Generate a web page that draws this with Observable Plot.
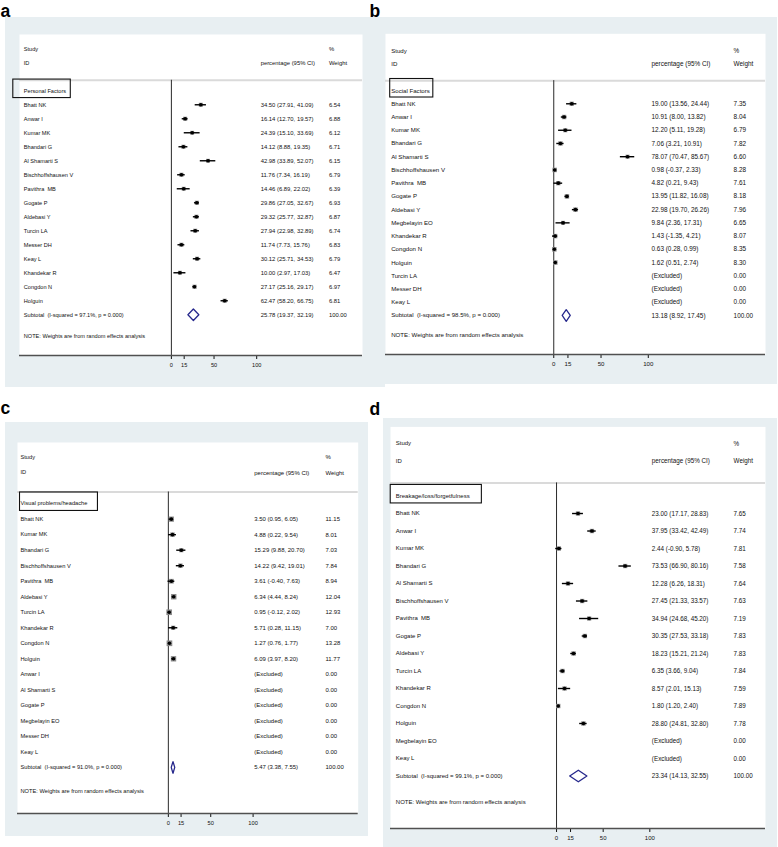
<!DOCTYPE html>
<html><head><meta charset="utf-8">
<script src="https://cdn.jsdelivr.net/npm/d3@7"></script>
<script src="https://cdn.jsdelivr.net/npm/@observablehq/plot@0.6"></script>
<style>
body{margin:0;background:#fff;}
#page{position:relative;width:778px;height:847px;overflow:hidden;font-family:"Liberation Sans",Arial,Helvetica,sans-serif;}
.panel{position:absolute;background:#e8eff2;}
.panel svg{display:block;overflow:visible;}
.panel svg text{white-space:pre;}
#letters{position:absolute;left:0;top:0;pointer-events:none;}
</style></head><body><div id="page"></div>
<script>
// ---------- data ----------
const xTicks = [0, 15, 50, 100];
const headerLeft = ["Study", "ID"];
const headerEst = ["", "percentage (95% CI)"];
const headerWeight = ["%", "Weight"];
const noteText = "NOTE: Weights are from random effects analysis";
const excludedText = "(Excluded)";
const panelLetters = ["a", "b", "c", "d"];
const groupLabels = ["Personal Factors", "Social Factors", "Visual problems/headache", "Breakage/loss/forgetfulness"];

// a: Personal Factors
const aStudies = ["Bhatt NK","Anwar I","Kumar MK","Bhandari G","Al Shamarti S","Bischhoffshausen V","Pavithra  MB","Gogate P","Aldebasi Y","Turcin LA","Messer DH","Keay L","Khandekar R","Congdon N","Holguin"];
const aEst = [34.50,16.14,24.39,14.12,42.98,11.76,14.46,29.86,29.32,27.94,11.74,30.12,10.00,27.17,62.47];
const aLo = [27.91,12.70,15.10,8.88,33.89,7.34,6.89,27.05,25.77,22.98,7.73,25.71,2.97,25.16,58.20];
const aHi = [41.09,19.57,33.69,19.35,52.07,16.19,22.02,32.67,32.87,32.89,15.76,34.53,17.03,29.17,66.75];
const aWeight = [6.54,6.88,6.12,6.71,6.15,6.79,6.39,6.93,6.87,6.74,6.83,6.79,6.47,6.97,6.81];
const aExcluded = [];
const aSubtotal = [25.78, 19.37, 32.19];
const aISquared = "97.1%";

// b: Social Factors
const bStudies = ["Bhatt NK","Anwar I","Kumar MK","Bhandari G","Al Shamarti S","Bischhoffshausen V","Pavithra  MB","Gogate P","Aldebasi Y","Megbelayin EO","Khandekar R","Congdon N","Holguin"];
const bEst = [19.00,10.91,12.20,7.06,78.07,0.98,4.82,13.95,22.98,9.84,1.43,0.63,1.62];
const bLo = [13.56,8.00,5.11,3.21,70.47,-0.37,0.21,11.82,19.70,2.36,-1.35,0.28,0.51];
const bHi = [24.44,13.82,19.28,10.91,85.67,2.33,9.43,16.08,26.26,17.31,4.21,0.99,2.74];
const bWeight = [7.35,8.04,6.79,7.82,6.60,8.28,7.61,8.18,7.96,6.65,8.07,8.35,8.30];
const bExcluded = ["Turcin LA","Messer DH","Keay L"];
const bSubtotal = [13.18, 8.92, 17.45];
const bISquared = "98.5%";

// c: Visual problems/headache
const cStudies = ["Bhatt NK","Kumar MK","Bhandari G","Bischhoffshausen V","Pavithra  MB","Aldebasi Y","Turcin LA","Khandekar R","Congdon N","Holguin"];
const cEst = [3.50,4.88,15.29,14.22,3.61,6.34,0.95,5.71,1.27,6.09];
const cLo = [0.95,0.22,9.88,9.42,-0.40,4.44,-0.12,0.28,0.76,3.97];
const cHi = [6.05,9.54,20.70,19.01,7.63,8.24,2.02,11.15,1.77,8.20];
const cWeight = [11.15,8.01,7.03,7.84,8.94,12.04,12.93,7.00,13.28,11.77];
const cExcluded = ["Anwar I","Al Shamarti S","Gogate P","Megbelayin EO","Messer DH","Keay L"];
const cSubtotal = [5.47, 3.38, 7.55];
const cISquared = "91.0%";

// d: Breakage/loss/forgetfulness
const dStudies = ["Bhatt NK","Anwar I","Kumar MK","Bhandari G","Al Shamarti S","Bischhoffshausen V","Pavithra  MB","Gogate P","Aldebasi Y","Turcin LA","Khandekar R","Congdon N","Holguin"];
const dEst = [23.00,37.95,2.44,73.53,12.28,27.45,34.94,30.35,18.23,6.35,8.57,1.80,28.80];
const dLo = [17.17,33.42,-0.90,66.90,6.26,21.33,24.68,27.53,15.21,3.66,2.01,1.20,24.81];
const dHi = [28.83,42.49,5.78,80.16,18.31,33.57,45.20,33.18,21.24,9.04,15.13,2.40,32.80];
const dWeight = [7.65,7.74,7.81,7.58,7.64,7.63,7.19,7.83,7.83,7.84,7.59,7.89,7.78];
const dExcluded = ["Megbelayin EO","Keay L"];
const dSubtotal = [23.34, 14.13, 32.55];
const dISquared = "99.1%";

// ---------- layout (style only) ----------
const layouts = [
  {left:5, top:17, width:380, height:370, ml:14, mr:23, mt:17, mb:32, yTop:-4.02, axisPad:2.91, fs:5.6, labelDx:4.3, estFrac:0.703, wtFrac:0.902, boxPad:[11,4], letter:[0,16.5]},
  {left:385, top:17, width:392, height:367, ml:0, mr:12, mt:16.3, mb:30, yTop:-4.29, axisPad:2.95, fs:6.1, labelDx:5.7, estFrac:0.700, wtFrac:0.916, boxPad:[1.5,3], letter:[369,16.5]},
  {left:5, top:421.7, width:363, height:414.3, ml:12, mr:10.3, mt:20, mb:23.3, yTop:-3.94, axisPad:2.97, fs:5.7, labelDx:3, estFrac:0.695, wtFrac:0.904, boxPad:[1,10], letter:[0,413.5]},
  {left:383, top:418.3, width:394, height:428.7, ml:7, mr:12, mt:8.4, mb:18.7, yTop:-3.95, axisPad:3.0, fs:6.0, labelDx:5.3, estFrac:0.697, wtFrac:0.915, boxPad:[5.6,11.7], letter:[369,415]}
];

const panelsData = [
  [aStudies, aEst, aLo, aHi, aWeight, aExcluded, aSubtotal, aISquared],
  [bStudies, bEst, bLo, bHi, bWeight, bExcluded, bSubtotal, bISquared],
  [cStudies, cEst, cLo, cHi, cWeight, cExcluded, cSubtotal, cISquared],
  [dStudies, dEst, dLo, dHi, dWeight, dExcluded, dSubtotal, dISquared]
];

const page = document.getElementById("page");
const fmt = v => v.toFixed(2);
const FONT = '"Liberation Sans", Arial, Helvetica, sans-serif';
const NAVY = "#26288c";

function forest(group, P, L) {
  const [studies, est, lo, hi, weight, excluded, subtotal, isq] = P;
  const n = studies.length, m = excluded.length;
  const rows = studies.map((s, i) => ({row: i + 1, name: s, est: est[i], lo: lo[i], hi: hi[i], w: weight[i]}));
  const exRows = excluded.map((s, j) => ({row: n + j + 1, name: s}));
  const subRow = n + m + 1;
  const yBottom = subRow + L.axisPad;
  const rowPx = (L.height - L.mt - L.mb) / (yBottom - L.yTop);
  const hh = 5.8 / rowPx;
  const [sEst, sLo, sHi] = subtotal;
  const diamond = [
    {x: sLo, y: subRow}, {x: sEst, y: subRow - hh}, {x: sHi, y: subRow},
    {x: sEst, y: subRow + hh}, {x: sLo, y: subRow}
  ];
  const W = L.width - L.ml - L.mr;
  const textRows = [
    ...headerLeft.map((h, i) => ({row: i - 3, left: h, est: headerEst[i], wt: headerWeight[i]})),
    {row: 0, left: group},
    ...rows.map(r => ({row: r.row, left: r.name, est: `${fmt(r.est)} (${fmt(r.lo)}, ${fmt(r.hi)})`, wt: fmt(r.w)})),
    ...exRows.map(r => ({row: r.row, left: r.name, est: excludedText, wt: fmt(0)})),
    {row: subRow, left: `Subtotal  (I-squared = ${isq}, p = 0.000)`, est: `${fmt(sEst)} (${fmt(sLo)}, ${fmt(sHi)})`, wt: fmt(100)},
    {row: subRow + 1.5, left: noteText}
  ];
  const txt = "#111";
  return Plot.plot({
    width: L.width, height: L.height,
    marginLeft: L.ml, marginRight: L.mr, marginTop: L.mt, marginBottom: L.mb,
    style: {background: "transparent", fontFamily: FONT, fontSize: L.fs + "px", color: "#111", overflow: "visible"},
    x: {domain: [-178, 224], ticks: xTicks, tickSize: 4, tickPadding: 3.5, label: null, tickFormat: d => String(d)},
    y: {domain: [L.yTop, yBottom], reverse: true, axis: null},
    r: {type: "sqrt", domain: [0, 14], range: [0, 3.3]},
    marks: [
      Plot.frame({fill: "white", stroke: "none"}),
      Plot.ruleY([-0.75], {stroke: "#dadada", strokeWidth: 2}),
      Plot.ruleX([0], {y1: -0.75, y2: yBottom, stroke: "#2a2a2a", strokeWidth: 1}),
      Plot.ruleY([yBottom], {stroke: "#505050", strokeWidth: 1.4}),
      Plot.dot(rows, {x: "est", y: "row", r: "w", symbol: "square", fill: "#8a8a8a", stroke: "none"}),
      Plot.ruleY(rows, {y: "row", x1: "lo", x2: "hi", stroke: "#000", strokeWidth: 1.4}),
      Plot.dot(rows, {x: "est", y: "row", r: 1.8, fill: "#000", stroke: "none"}),
      Plot.line(diamond, {x: "x", y: "y", stroke: NAVY, strokeWidth: 1.3, curve: "linear"}),
      Plot.text(textRows, {y: "row", text: "left", frameAnchor: "left", dx: L.labelDx, textAnchor: "start", fill: txt}),
      Plot.text(textRows.filter(d => d.est), {y: "row", text: "est", frameAnchor: "left", dx: L.estFrac * W, textAnchor: "start", fill: txt, fontSize: L.fs * 1.05}),
      Plot.text(textRows.filter(d => d.wt), {y: "row", text: "wt", frameAnchor: "left", dx: L.wtFrac * W, textAnchor: "start", fill: txt, fontSize: L.fs * 1.05})
    ]
  });
}

layouts.forEach((L, k) => {
  const div = document.createElement("div");
  div.className = "panel";
  Object.assign(div.style, {left: L.left + "px", top: L.top + "px", width: L.width + "px", height: L.height + "px"});
  page.appendChild(div);
  const svg = forest(groupLabels[k], panelsData[k], L);
  div.appendChild(svg);
  // box around the subgroup label
  const t = Array.from(svg.querySelectorAll("text")).find(e => e.textContent === groupLabels[k]);
  if (t) {
    const sr = svg.getBoundingClientRect();
    const tr = t.getBoundingClientRect();
    const cy = tr.top + tr.height / 2 - sr.top;
    d3.select(svg).append("rect")
      .attr("x", tr.left - sr.left - L.boxPad[0])
      .attr("y", cy - 11.5)
      .attr("width", tr.width + L.boxPad[0] + L.boxPad[1])
      .attr("height", 18.5)
      .attr("fill", "none")
      .attr("stroke", "#111")
      .attr("stroke-width", 1.1);
  }
});

// panel letters
const ov = d3.select(page).append("svg").attr("id", "letters").attr("width", 778).attr("height", 847);
ov.selectAll("text").data(layouts).join("text")
  .attr("x", d => d.letter[0] + 0.5).attr("y", d => d.letter[1])
  .attr("font-family", FONT).attr("font-weight", "bold").attr("font-size", 17.5)
  .attr("fill", "#000")
  .text((d, i) => panelLetters[i]);
</script>
</body></html>
